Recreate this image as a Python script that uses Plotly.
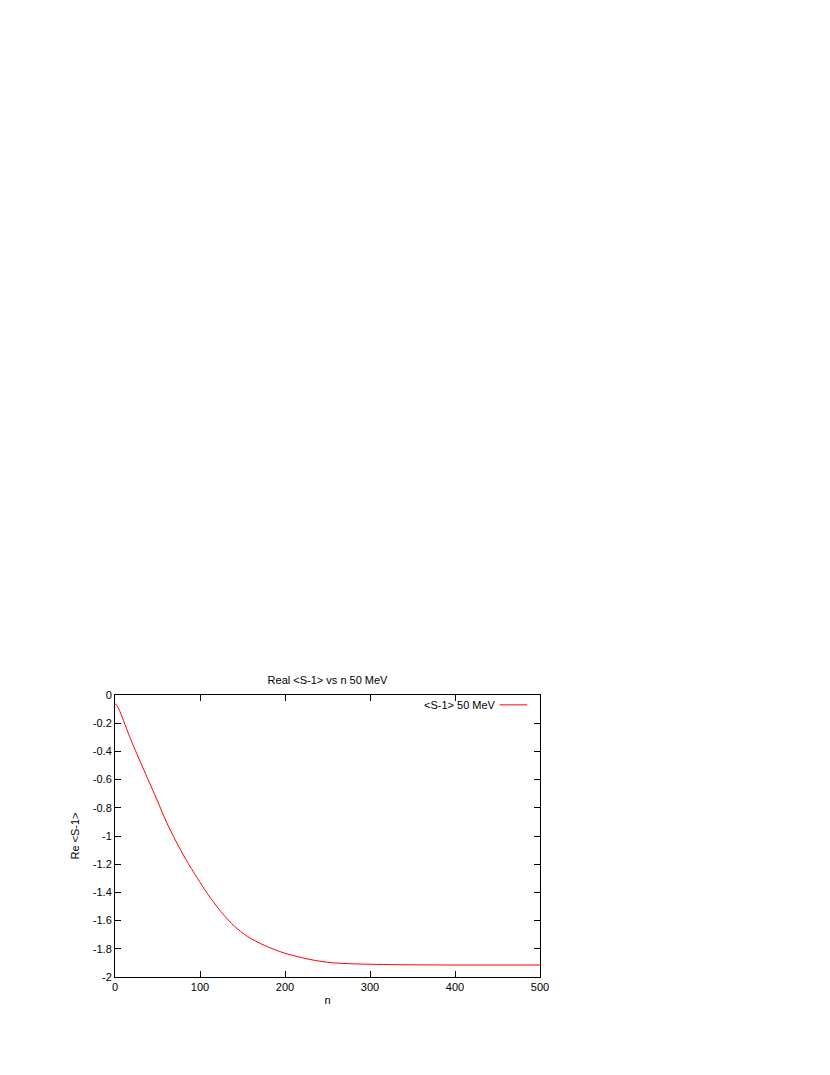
import plotly.graph_objects as go

# values
n_values = [0, 3, 6, 18.5, 34.2, 50, 60, 71.5, 83.3, 96.5, 108.9, 126.5, 140.2,
            156, 175.5, 199, 230.6, 254, 282, 337, 400, 500]
re_s_minus_1 = [-0.06, -0.082, -0.12, -0.315, -0.535, -0.752, -0.894, -1.035,
                -1.165, -1.295, -1.41, -1.55, -1.638, -1.713, -1.775, -1.83,
                -1.877, -1.898, -1.907, -1.913, -1.915, -1.915]

series_name = "<S-1> 50 MeV"
x_ticks = [0, 100, 200, 300, 400, 500]
y_ticks = [0, -0.2, -0.4, -0.6, -0.8, -1, -1.2, -1.4, -1.6, -1.8, -2]
y_tick_text = ["0", "-0.2", "-0.4", "-0.6", "-0.8", "-1", "-1.2", "-1.4", "-1.6", "-1.8", "-2"]

font_family = "Liberation Sans, Arial, sans-serif"

fig = go.Figure()
fig.add_trace(
    go.Scatter(
        x=n_values,
        y=re_s_minus_1,
        mode="lines",
        line={"color": "#ff0000", "width": 1, "shape": "spline", "smoothing": 0.8},
        name=series_name,
        showlegend=False,
    )
)

axis_style = {
    "showline": True,
    "linecolor": "#000000",
    "linewidth": 1,
    "mirror": "ticks",
    "ticks": "inside",
    "ticklen": 6,
    "tickcolor": "#000000",
    "showgrid": False,
    "zeroline": False,
    "tickfont": {"size": 11, "color": "#000000"},
}

fig.update_xaxes(
    range=[0, 500], tickvals=x_ticks, ticktext=[str(v) for v in x_ticks],
    title={"text": "n", "font": {"size": 11}, "standoff": 4}, **axis_style
)
fig.update_yaxes(
    range=[-2, 0], tickvals=y_ticks, ticktext=y_tick_text,
    title={"text": "Re <S-1>", "font": {"size": 11}, "standoff": 10}, **axis_style
)

# gnuplot-style key: text then line sample, top right
fig.add_annotation(
    xref="paper", yref="paper", x=0.902, y=0.965, xanchor="right", yanchor="middle",
    text=series_name, showarrow=False, font={"size": 11, "color": "#000000"},
)
fig.add_shape(
    type="line", xref="paper", yref="paper", x0=0.905, x1=0.97, y0=0.965, y1=0.965,
    line={"color": "#ff0000", "width": 1},
)

fig.update_layout(
    width=830,
    height=1075,
    template="none",
    paper_bgcolor="#ffffff",
    plot_bgcolor="#ffffff",
    font={"family": font_family, "size": 11, "color": "#000000"},
    title={"text": "Real <S-1> vs n 50 MeV", "x": 0.385, "xanchor": "center",
           "y": 1 - 672 / 1075, "yanchor": "middle", "font": {"size": 11}},
    margin={"l": 107, "r": 298, "t": 687, "b": 106},
)

fig.write_html("out.html")
